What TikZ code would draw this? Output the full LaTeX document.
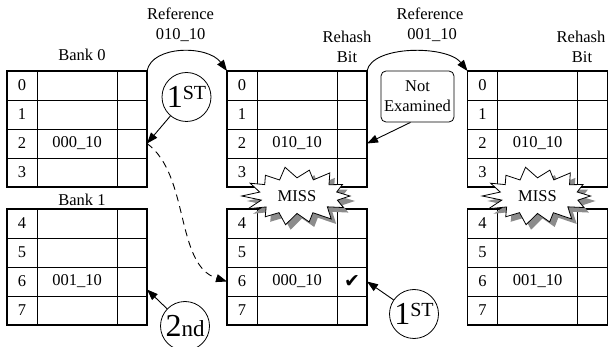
\documentclass[tikz,border=0pt]{standalone}
\usepackage{fontspec}
\setmainfont{Liberation Serif}
\newfontfamily\symfont{DejaVu Sans}
\usetikzlibrary{arrows.meta}

\newcommand\txt{\fontsize{16.5}{20}\selectfont}
\newcommand\bigdigit{\fontsize{32}{32}\selectfont}

% one table row: name, left x, top y, index, data, rehash bit
\newcommand\cellrow[6]{%
  \node[idxcell]  (#1i) at ({#2+15},{#3+14.5}) {#4};
  \node[datacell] (#1d) at ({#2+70},{#3+14.5}) {#5};
  \node[bitcell]  (#1b) at ({#2+125},{#3+14.5}) {#6};
}

% jagged outline of the MISS burst
\newcommand\burstpath{(0:53pt and 28pt)
  \foreach \i [evaluate=\i as \a using \i*360/28,
               evaluate=\i as \rx using {53-14*mod(\i,2)+2.5*sin(\i*137)},
               evaluate=\i as \ry using {28-10*mod(\i,2)+1.5*cos(\i*91)}]
  in {1,...,27} {-- (\a:\rx pt and \ry pt)} -- cycle}

\tikzset{
  cell/.style={draw, line width=0.8pt, inner sep=0pt, outer sep=0pt,
               minimum height=29pt, font=\txt},
  idxcell/.style={cell, minimum width=30pt},
  datacell/.style={cell, minimum width=80pt},
  bitcell/.style={cell, minimum width=30pt},
  frame/.style={draw, line width=1.2pt},
  lbl/.style={anchor=base, inner sep=0pt, font=\txt},
  circ/.style={draw, circle, line width=0.8pt, minimum size=49pt, inner sep=0pt},
  conn/.style={line width=0.9pt, -{Triangle[length=11pt,width=8pt]}},
  notebox/.style={draw, line width=0.8pt, rounded corners=5pt, align=center,
                  minimum width=73pt, minimum height=51pt, inner sep=1pt,
                  fill=white, font=\txt},
  pics/missburst/.style={code={
    \begin{scope}[shift={(5pt,-5pt)}]
      \fill[black!45] \burstpath;
    \end{scope}
    \filldraw[fill=white, draw=black, line width=0.8pt] \burstpath;
    \node[font=\txt, inner sep=0pt] (-t) {MISS};
  }}
}

\begin{document}
\begin{tikzpicture}[x=1pt, y=-1pt]
  \useasboundingbox (0,0) rectangle (608,347);
  \fill[white] (0,0) rectangle (608,347);

  % headings
  \node[lbl] (ref1a) at (180.5,20) {Reference};
  \node[lbl] (ref1b) at (180.5,40) {010\_10};
  \node[lbl] (ref2a) at (430,20) {Reference};
  \node[lbl] (ref2b) at (432,40) {001\_10};
  \node[lbl] (bank0) at (82,61) {Bank 0};
  \node[lbl] (bank1) at (82,206) {Bank 1};
  \node[lbl] (rh1a) at (347,43) {Rehash};
  \node[lbl] (rh1b) at (347,63) {Bit};
  \node[lbl] (rh2a) at (581,43) {Rehash};
  \node[lbl] (rh2b) at (582,63) {Bit};

  % table a (banks 0 and 1)
  \cellrow{a0}{7}{71}{0}{}{}
  \cellrow{a1}{7}{100}{1}{}{}
  \cellrow{a2}{7}{129}{2}{000\_10}{}
  \cellrow{a3}{7}{158}{3}{}{}
  \cellrow{a4}{7}{209}{4}{}{}
  \cellrow{a5}{7}{238}{5}{}{}
  \cellrow{a6}{7}{267}{6}{001\_10}{}
  \cellrow{a7}{7}{296}{7}{}{}

  % table b
  \cellrow{b0}{227}{71}{0}{}{}
  \cellrow{b1}{227}{100}{1}{}{}
  \cellrow{b2}{227}{129}{2}{010\_10}{}
  \cellrow{b3}{227}{158}{3}{}{}
  \cellrow{b4}{227}{209}{4}{}{}
  \cellrow{b5}{227}{238}{5}{}{}
  \cellrow{b6}{227}{267}{6}{000\_10}{{\symfont\fontsize{19}{19}\selectfont ✔}}
  \cellrow{b7}{227}{296}{7}{}{}

  % table c
  \cellrow{c0}{467.5}{71}{0}{}{}
  \cellrow{c1}{467.5}{100}{1}{}{}
  \cellrow{c2}{467.5}{129}{2}{010\_10}{}
  \cellrow{c3}{467.5}{158}{3}{}{}
  \cellrow{c4}{467.5}{209}{4}{}{}
  \cellrow{c5}{467.5}{238}{5}{}{}
  \cellrow{c6}{467.5}{267}{6}{001\_10}{}
  \cellrow{c7}{467.5}{296}{7}{}{}

  % outer frames of each group of four rows
  \foreach \t in {a,b,c} {
    \draw[frame] (\t0i.north west) rectangle (\t3b.south east);
    \draw[frame] (\t4i.north west) rectangle (\t7b.south east);
  }

  % misses
  \pic (m1) at (297,196) {missburst};
  \pic (m2) at (537.5,196) {missburst};

  % probe markers
  \node[circ] (p1) at (186.5,97) {\bigdigit 1\raisebox{8.4pt}{\fontsize{20}{20}\selectfont ST}};
  \node[circ] (p2) at (185,326) {\bigdigit 2\fontsize{23}{23}\selectfont nd};
  \node[circ] (p3) at (414,314) {\bigdigit 1\raisebox{8.4pt}{\fontsize{20}{20}\selectfont ST}};
  \node[notebox] (ne) at (417.5,96.5) {Not\\Examined};

  % connectors
  \draw[conn] (a0b.north east) .. controls (152,45) and (208,45) .. (b0i.north west);
  \draw[conn] (b0b.north east) .. controls (372,45) and (447,45) .. (c0i.north west);
  \draw[conn] (p1) -- (a2b.east);
  \draw[conn] (p2) -- ([yshift=-8pt]a6b.east);
  \draw[conn] (p3) -- (b6b.east);
  \draw[conn] ([xshift=-7pt]ne.south) -- (b2b.east);
  \draw[conn, dash pattern=on 7pt off 5pt] (a2b.east) .. controls (190,175) and (175,265) .. (b6i.west);
\end{tikzpicture}
\end{document}
